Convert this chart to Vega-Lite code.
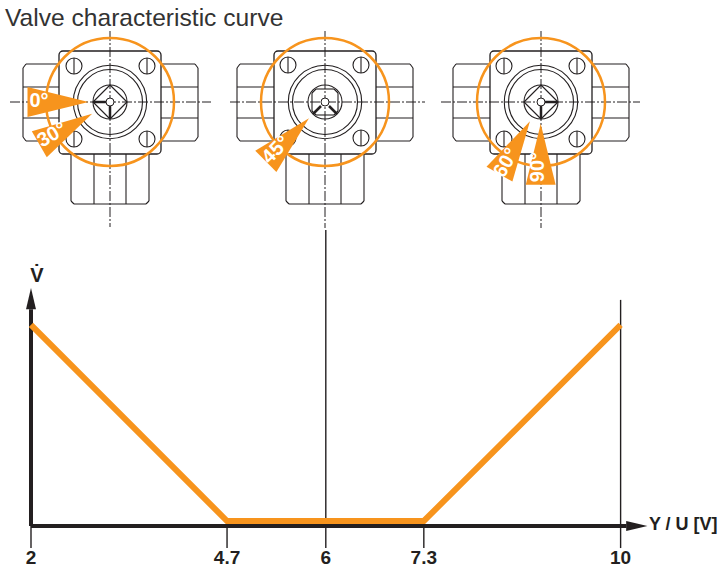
{
"$schema":"https://vega.github.io/schema/vega-lite/v6.json",
"width":719,"height":570,"padding":0,"autosize":{"type":"fit","contains":"padding"},
"background":"white",
"config":{"view":{"stroke":null},"font":"Liberation Sans"},
"resolve":{"scale":{"x":"independent","y":"independent"}},
"datasets":{
"segments":[
{"x":59,"y":64,"x2":26,"y2":64},{"x":26,"y":64,"x2":23,"y2":68},{"x":23,"y":68,"x2":23,"y2":137},{"x":23,"y":137,"x2":26,"y2":141},{"x":26,"y":141,"x2":59,"y2":141},{"x":23,"y":87,"x2":59,"y2":87},{"x":23,"y":118,"x2":59,"y2":118},
{"x":161,"y":64,"x2":195,"y2":64},{"x":195,"y":64,"x2":198,"y2":68},{"x":198,"y":68,"x2":198,"y2":137},{"x":198,"y":137,"x2":195,"y2":141},{"x":195,"y":141,"x2":161,"y2":141},{"x":161,"y":87,"x2":198,"y2":87},{"x":161,"y":118,"x2":198,"y2":118},
{"x":71,"y":154,"x2":71,"y2":201},{"x":71,"y":201,"x2":74,"y2":204},{"x":74,"y":204,"x2":146,"y2":204},{"x":146,"y":204,"x2":149,"y2":201},{"x":149,"y":201,"x2":149,"y2":154},{"x":94,"y":154,"x2":94,"y2":204},{"x":126,"y":154,"x2":126,"y2":204},
{"x":274,"y":64,"x2":240,"y2":64},{"x":240,"y":64,"x2":237,"y2":68},{"x":237,"y":68,"x2":237,"y2":137},{"x":237,"y":137,"x2":240,"y2":141},{"x":240,"y":141,"x2":274,"y2":141},{"x":237,"y":87,"x2":274,"y2":87},{"x":237,"y":118,"x2":274,"y2":118},
{"x":376,"y":64,"x2":410,"y2":64},{"x":410,"y":64,"x2":413,"y2":68},{"x":413,"y":68,"x2":413,"y2":137},{"x":413,"y":137,"x2":410,"y2":141},{"x":410,"y":141,"x2":376,"y2":141},{"x":376,"y":87,"x2":413,"y2":87},{"x":376,"y":118,"x2":413,"y2":118},
{"x":286,"y":154,"x2":286,"y2":201},{"x":286,"y":201,"x2":289,"y2":204},{"x":289,"y":204,"x2":361,"y2":204},{"x":361,"y":204,"x2":364,"y2":201},{"x":364,"y":201,"x2":364,"y2":154},{"x":309,"y":154,"x2":309,"y2":204},{"x":341,"y":154,"x2":341,"y2":204},
{"x":490,"y":64,"x2":456,"y2":64},{"x":456,"y":64,"x2":453,"y2":68},{"x":453,"y":68,"x2":453,"y2":137},{"x":453,"y":137,"x2":456,"y2":141},{"x":456,"y":141,"x2":490,"y2":141},{"x":453,"y":87,"x2":490,"y2":87},{"x":453,"y":118,"x2":490,"y2":118},
{"x":592,"y":64,"x2":626,"y2":64},{"x":626,"y":64,"x2":629,"y2":68},{"x":629,"y":68,"x2":629,"y2":137},{"x":629,"y":137,"x2":626,"y2":141},{"x":626,"y":141,"x2":592,"y2":141},{"x":592,"y":87,"x2":629,"y2":87},{"x":592,"y":118,"x2":629,"y2":118},
{"x":502,"y":154,"x2":502,"y2":201},{"x":502,"y":201,"x2":505,"y2":204},{"x":505,"y":204,"x2":577,"y2":204},{"x":577,"y":204,"x2":580,"y2":201},{"x":580,"y":201,"x2":580,"y2":154},{"x":525,"y":154,"x2":525,"y2":204},{"x":557,"y":154,"x2":557,"y2":204},
{"x":74,"y":58,"x2":74,"y2":74},{"x":147,"y":58,"x2":147,"y2":74},{"x":74,"y":131,"x2":74,"y2":147},{"x":147,"y":131,"x2":147,"y2":147},
{"x":288,"y":57,"x2":288,"y2":73},{"x":361,"y":57,"x2":361,"y2":73},{"x":288,"y":130,"x2":288,"y2":146},{"x":361,"y":130,"x2":361,"y2":146},
{"x":504,"y":58,"x2":504,"y2":74},{"x":577,"y":58,"x2":577,"y2":74},{"x":504,"y":131,"x2":504,"y2":147},{"x":577,"y":131,"x2":577,"y2":147},
{"x":110,"y":85,"x2":127,"y2":102},{"x":127,"y":102,"x2":110,"y2":119},{"x":110,"y":119,"x2":93,"y2":102},{"x":93,"y":102,"x2":110,"y2":85},
{"x":541,"y":85,"x2":558,"y2":102},{"x":558,"y":102,"x2":541,"y2":119},{"x":541,"y":119,"x2":524,"y2":102},{"x":524,"y":102,"x2":541,"y2":85},
{"x":316,"y":89,"x2":334,"y2":89},{"x":338,"y":93,"x2":338,"y2":111},{"x":334,"y":115,"x2":316,"y2":115},{"x":312,"y":111,"x2":312,"y2":93},
{"x":316,"y":89,"x2":312,"y2":93},{"x":334,"y":89,"x2":338,"y2":93},{"x":338,"y":111,"x2":334,"y2":115},{"x":312,"y":111,"x2":316,"y2":115}
],
"stems":[
{"x":94,"y":102,"x2":110,"y2":102},{"x":110,"y":102,"x2":110,"y2":118},
{"x":321,"y":106,"x2":313,"y2":114},{"x":329,"y":106,"x2":337,"y2":114},
{"x":541,"y":102,"x2":557,"y2":102},{"x":541,"y":102,"x2":541,"y2":118}
],
"centerlines":[
{"x":10,"y":102,"x2":211,"y2":102},{"x":110,"y":31,"x2":110,"y2":227},
{"x":230,"y":102,"x2":425,"y2":102},{"x":325,"y":31,"x2":325,"y2":228},
{"x":441,"y":102,"x2":640,"y2":102},{"x":541,"y":31,"x2":541,"y2":228}
],
"bodies":[{"x":59,"y":51,"x2":161,"y2":154},{"x":274,"y":51,"x2":376,"y2":154},{"x":490,"y":51,"x2":592,"y2":154}],
"valves":[{"x":110,"y":102},{"x":325,"y":102},{"x":541,"y":102}],
"screws":[{"x":74,"y":66},{"x":147,"y":66},{"x":74,"y":139},{"x":147,"y":139},{"x":288,"y":65},{"x":361,"y":65},{"x":288,"y":138},{"x":361,"y":138},{"x":504,"y":66},{"x":577,"y":66},{"x":504,"y":139},{"x":577,"y":139}],
"wedges":[
{"x":58,"y":102,"deg":0,"rot":0,"tx":39,"ty":101,"label":"0°"},
{"x":65.7,"y":129,"deg":30,"rot":330,"tx":52,"ty":135,"label":"30°"},
{"x":287.4,"y":139.8,"deg":45,"rot":315,"tx":276,"ty":150,"label":"45°"},
{"x":514.7,"y":147.7,"deg":60,"rot":300,"tx":506,"ty":163,"label":"60°"},
{"x":540.7,"y":154.3,"deg":90,"rot":270,"tx":537.7,"ty":167,"label":"90°"}
],
"curve":[{"u":2,"flow":100},{"u":4.66,"flow":0},{"u":7.33,"flow":0},{"u":10,"flow":100}],
"gridlines":[{"u":2,"top":-2.5,"bottom":-13.8},{"u":4.66,"top":-2.5,"bottom":-13.8},{"u":6,"top":148.5,"bottom":-13.8},{"u":7.33,"top":-2.5,"bottom":-13.8},{"u":10,"top":112.8,"bottom":-13.8}],
"ticklabels":[{"u":2,"flow":-18.9,"label":"2"},{"u":4.66,"flow":-18.9,"label":"4.7"},{"u":6,"flow":-18.9,"label":"6"},{"u":7.33,"flow":-18.9,"label":"7.3"},{"u":10,"flow":-18.9,"label":"10"}]
},
"layer":[
{"data":{"name":"centerlines"},"mark":{"type":"rule","stroke":"#231f20","strokeWidth":1,"strokeDash":[10,2,2,2]},
 "encoding":{"x":{"field":"x","type":"quantitative","scale":{"domain":[0,719],"nice":false,"zero":false},"axis":null},"x2":{"field":"x2"},"y":{"field":"y","type":"quantitative","scale":{"domain":[570,0],"nice":false,"zero":false},"axis":null},"y2":{"field":"y2"}}},
{"data":{"name":"segments"},"mark":{"type":"rule","stroke":"#231f20","strokeWidth":1.1},
 "encoding":{"x":{"field":"x","type":"quantitative","scale":{"domain":[0,719],"nice":false,"zero":false},"axis":null},"x2":{"field":"x2"},"y":{"field":"y","type":"quantitative","scale":{"domain":[570,0],"nice":false,"zero":false},"axis":null},"y2":{"field":"y2"}}},
{"data":{"name":"bodies"},"mark":{"type":"rect","fill":"transparent","stroke":"#231f20","strokeWidth":1.3,"cornerRadius":4},
 "encoding":{"x":{"field":"x","type":"quantitative","scale":{"domain":[0,719],"nice":false,"zero":false},"axis":null},"x2":{"field":"x2"},"y":{"field":"y","type":"quantitative","scale":{"domain":[570,0],"nice":false,"zero":false},"axis":null},"y2":{"field":"y2"}}},
{"data":{"name":"screws"},"mark":{"type":"point","shape":"circle","filled":false,"size":256,"stroke":"#231f20","strokeWidth":1.1,"opacity":1},
 "encoding":{"x":{"field":"x","type":"quantitative","scale":{"domain":[0,719],"nice":false,"zero":false},"axis":null},"y":{"field":"y","type":"quantitative","scale":{"domain":[570,0],"nice":false,"zero":false},"axis":null}}},
{"data":{"name":"valves"},"mark":{"type":"point","shape":"circle","filled":false,"size":5388,"stroke":"#231f20","strokeWidth":1.1,"opacity":1},
 "encoding":{"x":{"field":"x","type":"quantitative","scale":{"domain":[0,719],"nice":false,"zero":false},"axis":null},"y":{"field":"y","type":"quantitative","scale":{"domain":[570,0],"nice":false,"zero":false},"axis":null}}},
{"data":{"name":"valves"},"mark":{"type":"point","shape":"circle","filled":false,"size":4225,"stroke":"#231f20","strokeWidth":1.1,"opacity":1},
 "encoding":{"x":{"field":"x","type":"quantitative","scale":{"domain":[0,719],"nice":false,"zero":false},"axis":null},"y":{"field":"y","type":"quantitative","scale":{"domain":[570,0],"nice":false,"zero":false},"axis":null}}},
{"data":{"name":"valves"},"mark":{"type":"point","shape":"circle","filled":false,"size":1156,"stroke":"#231f20","strokeWidth":1.1,"opacity":1},
 "encoding":{"x":{"field":"x","type":"quantitative","scale":{"domain":[0,719],"nice":false,"zero":false},"axis":null},"y":{"field":"y","type":"quantitative","scale":{"domain":[570,0],"nice":false,"zero":false},"axis":null}}},
{"data":{"name":"stems"},"mark":{"type":"rule","stroke":"#231f20","strokeWidth":2.5},
 "encoding":{"x":{"field":"x","type":"quantitative","scale":{"domain":[0,719],"nice":false,"zero":false},"axis":null},"x2":{"field":"x2"},"y":{"field":"y","type":"quantitative","scale":{"domain":[570,0],"nice":false,"zero":false},"axis":null},"y2":{"field":"y2"}}},
{"data":{"name":"valves"},"mark":{"type":"point","shape":"circle","filled":true,"size":64,"fill":"white","stroke":"#231f20","strokeWidth":1,"opacity":1},
 "encoding":{"x":{"field":"x","type":"quantitative","scale":{"domain":[0,719],"nice":false,"zero":false},"axis":null},"y":{"field":"y","type":"quantitative","scale":{"domain":[570,0],"nice":false,"zero":false},"axis":null}}},
{"data":{"name":"valves"},"mark":{"type":"point","shape":"circle","filled":false,"size":16384,"stroke":"#f7941d","strokeWidth":2.5,"opacity":1},
 "encoding":{"x":{"field":"x","type":"quantitative","scale":{"domain":[0,719],"nice":false,"zero":false},"axis":null},"y":{"field":"y","type":"quantitative","scale":{"domain":[570,0],"nice":false,"zero":false},"axis":null}}},
{"data":{"name":"wedges"},"mark":{"type":"point","shape":"M-1,-0.49L1,0L-1,0.49Z","filled":true,"size":3721,"fill":"#f7941d","stroke":null,"opacity":1},
 "encoding":{"x":{"field":"x","type":"quantitative","scale":{"domain":[0,719],"nice":false,"zero":false},"axis":null},"y":{"field":"y","type":"quantitative","scale":{"domain":[570,0],"nice":false,"zero":false},"axis":null},"angle":{"field":"rot","type":"quantitative","scale":null}}},
{"data":{"name":"wedges"},"mark":{"type":"text","font":"Liberation Sans","fontWeight":"bold","fontSize":20,"fill":"white","align":"center","baseline":"middle"},
 "encoding":{"x":{"field":"tx","type":"quantitative","scale":{"domain":[0,719],"nice":false,"zero":false},"axis":null},"y":{"field":"ty","type":"quantitative","scale":{"domain":[570,0],"nice":false,"zero":false},"axis":null},"angle":{"field":"rot","type":"quantitative","scale":null},"text":{"field":"label"}}},
{"data":{"values":[{"x":5,"y":19,"label":"Valve characteristic curve"}]},"mark":{"type":"text","font":"Liberation Sans","fontSize":24.6,"fill":"#333333","align":"left","baseline":"middle"},
 "encoding":{"x":{"field":"x","type":"quantitative","scale":{"domain":[0,719],"nice":false,"zero":false},"axis":null},"y":{"field":"y","type":"quantitative","scale":{"domain":[570,0],"nice":false,"zero":false},"axis":null},"text":{"field":"label"}}},
{"data":{"name":"gridlines"},"mark":{"type":"rule","stroke":"#231f20","strokeWidth":1.4},
 "encoding":{"x":{"field":"u","type":"quantitative","scale":{"domain":[1.5794,11.335],"nice":false,"zero":false},"axis":null},"y":{"field":"top","type":"quantitative","scale":{"domain":[-25,265.8],"nice":false,"zero":false},"axis":null},"y2":{"field":"bottom"}}},
{"data":{"values":[{"u":2,"flow":-2.5,"u2":10.08,"flow2":-2.5},{"u":2,"flow":-2.5,"u2":2,"flow2":108}]},"mark":{"type":"rule","stroke":"#231f20","strokeWidth":4},
 "encoding":{"x":{"field":"u","type":"quantitative","scale":{"domain":[1.5794,11.335],"nice":false,"zero":false},"axis":null},"x2":{"field":"u2"},"y":{"field":"flow","type":"quantitative","scale":{"domain":[-25,265.8],"nice":false,"zero":false},"axis":null},"y2":{"field":"flow2"}}},
{"data":{"name":"curve"},"mark":{"type":"line","stroke":"#f7941d","strokeWidth":6,"strokeJoin":"miter"},
 "encoding":{"x":{"field":"u","type":"quantitative","scale":{"domain":[1.5794,11.335],"nice":false,"zero":false},"axis":null},"y":{"field":"flow","type":"quantitative","scale":{"domain":[-25,265.8],"nice":false,"zero":false},"axis":null}}},
{"data":{"values":[{"u":10.22,"flow":-2.5,"rot":0},{"u":2,"flow":113.5,"rot":270}]},"mark":{"type":"point","shape":"M-1,-0.47L1,0L-1,0.47Z","filled":true,"size":450,"fill":"#231f20","stroke":null,"opacity":1},
 "encoding":{"x":{"field":"u","type":"quantitative","scale":{"domain":[1.5794,11.335],"nice":false,"zero":false},"axis":null},"y":{"field":"flow","type":"quantitative","scale":{"domain":[-25,265.8],"nice":false,"zero":false},"axis":null},"angle":{"field":"rot","type":"quantitative","scale":null}}},
{"data":{"name":"ticklabels"},"mark":{"type":"text","font":"Liberation Sans","fontWeight":"bold","fontSize":19,"fill":"#231f20","align":"center","baseline":"middle"},
 "encoding":{"x":{"field":"u","type":"quantitative","scale":{"domain":[1.5794,11.335],"nice":false,"zero":false},"axis":null},"y":{"field":"flow","type":"quantitative","scale":{"domain":[-25,265.8],"nice":false,"zero":false},"axis":null},"text":{"field":"label"}}},
{"data":{"values":[{"u":10.85,"flow":-2,"label":"Y / U [V]"}]},"mark":{"type":"text","font":"Liberation Sans","fontWeight":"bold","fontSize":18,"fill":"#231f20","align":"center","baseline":"middle"},
 "encoding":{"x":{"field":"u","type":"quantitative","scale":{"domain":[1.5794,11.335],"nice":false,"zero":false},"axis":null},"y":{"field":"flow","type":"quantitative","scale":{"domain":[-25,265.8],"nice":false,"zero":false},"axis":null},"text":{"field":"label"}}},
{"data":{"values":[{"u":2.08,"flow":125,"label":"V̇"}]},"mark":{"type":"text","font":"Liberation Sans","fontWeight":"bold","fontSize":20,"fill":"#231f20","align":"center","baseline":"middle"},
 "encoding":{"x":{"field":"u","type":"quantitative","scale":{"domain":[1.5794,11.335],"nice":false,"zero":false},"axis":null},"y":{"field":"flow","type":"quantitative","scale":{"domain":[-25,265.8],"nice":false,"zero":false},"axis":null},"text":{"field":"label"}}}
]
}
